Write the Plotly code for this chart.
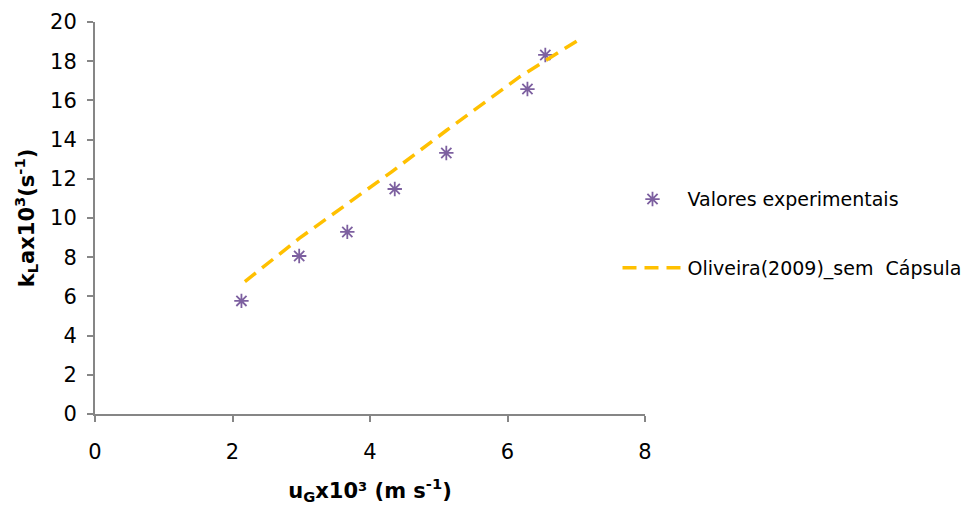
import plotly.graph_objects as go

# Experimental kLa values vs superficial gas velocity
ug_exp = [2.13, 2.97, 3.67, 4.36, 5.11, 6.29, 6.55]
kla_exp = [5.77, 8.06, 9.29, 11.48, 13.32, 16.58, 18.32]

# Oliveira (2009) correlation, without capsule
ug_corr = [2.18, 2.97, 3.68, 4.32, 5.12, 6.18, 7.04]
kla_corr = [6.75, 8.96, 10.75, 12.37, 14.49, 17.21, 19.1]

x_ticks = [0, 2, 4, 6, 8]
y_ticks = [0, 2, 4, 6, 8, 10, 12, 14, 16, 18, 20]

FONT = "DejaVu Sans"
AXIS_COLOR = "#868686"

fig = go.Figure()
fig.add_trace(go.Scatter(
    x=ug_exp, y=kla_exp, mode="markers", name="Valores experimentais",
    marker=dict(symbol="asterisk-open", size=12, color="#7D60A0",
                line=dict(color="#7D60A0", width=1.8)),
    legend="legend", showlegend=True,
))
fig.add_trace(go.Scatter(
    x=ug_corr, y=kla_corr, mode="lines", name="Oliveira(2009)_sem  Cápsula",
    line=dict(color="#FFC000", width=3.5, dash="14px,8px"),
    legend="legend2", showlegend=True,
))

fig.update_layout(
    width=973, height=509,
    margin=dict(l=95, r=328, t=22, b=95, autoexpand=False),
    paper_bgcolor="white", plot_bgcolor="white",
    showlegend=True,
    font=dict(family=FONT, size=19, color="#000000"),
    legend=dict(x=0.95, y=0.548, xanchor="left", yanchor="middle",
                font=dict(size=19), bgcolor="rgba(0,0,0,0)", itemwidth=60),
    legend2=dict(x=0.95, y=0.373, xanchor="left", yanchor="middle",
                 font=dict(size=19), bgcolor="rgba(0,0,0,0)", itemwidth=60),
    xaxis=dict(
        range=[0, 8], tickvals=x_ticks, showgrid=False, zeroline=False,
        showline=True, linecolor=AXIS_COLOR, linewidth=2,
        ticks="outside", ticklen=6, tickcolor=AXIS_COLOR, tickwidth=2,
        tickfont=dict(size=21), ticklabelstandoff=12,
        title=dict(text="<b>u<sub>G</sub>x10³ (m s<sup>-1</sup>)</b>",
                   font=dict(size=21), standoff=20),
    ),
    yaxis=dict(
        range=[0, 20], tickvals=y_ticks, showgrid=False, zeroline=False,
        showline=True, linecolor=AXIS_COLOR, linewidth=2,
        ticks="outside", ticklen=6, tickcolor=AXIS_COLOR, tickwidth=2,
        tickfont=dict(size=21), ticklabelstandoff=6,
        title=dict(text="<b>k<sub>L</sub>ax10<sup>3</sup>(s<sup>-1</sup>)</b>",
                   font=dict(size=21), standoff=10),
    ),
)

fig.write_html("out.html")
